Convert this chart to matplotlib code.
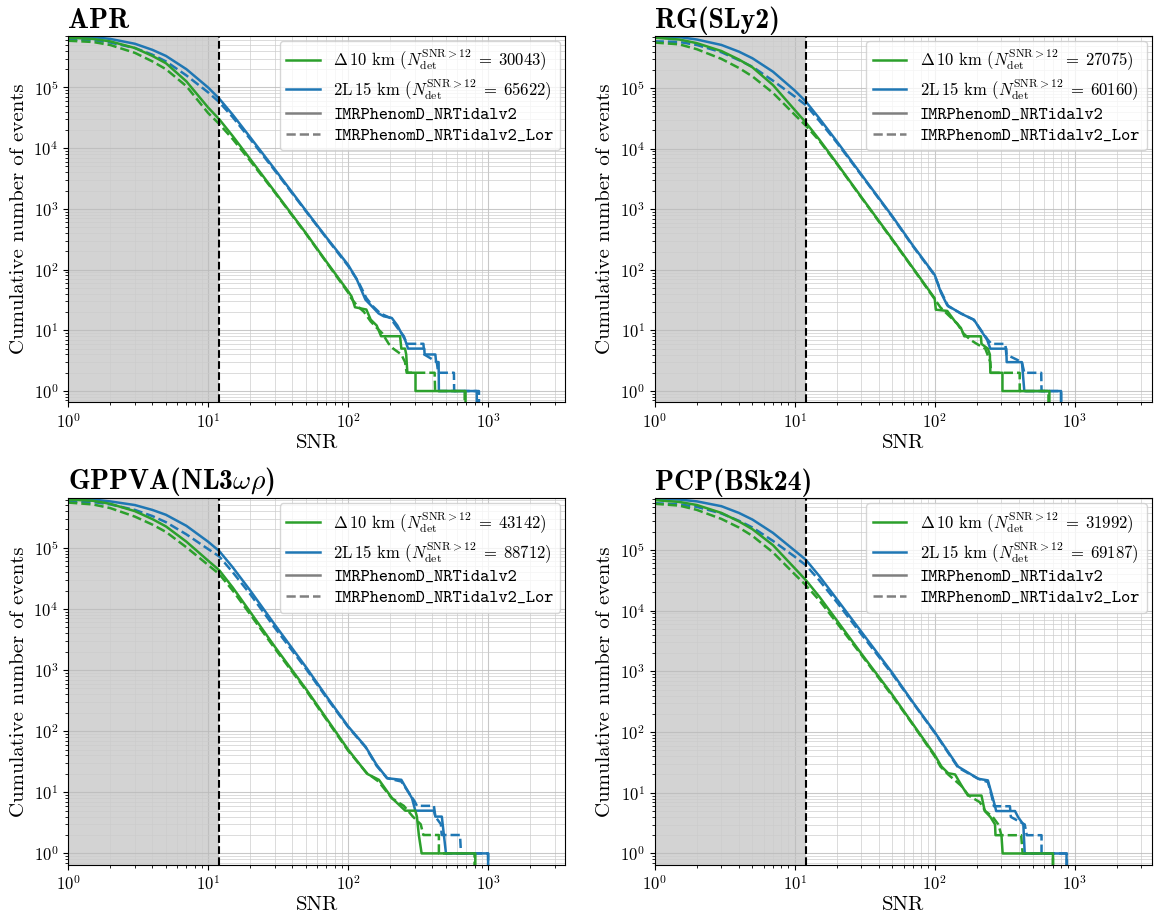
import numpy as np
import matplotlib.pyplot as plt
from matplotlib.lines import Line2D

plt.rcParams['font.family'] = 'cmr10'
plt.rcParams['mathtext.fontset'] = 'cm'
plt.rcParams['axes.formatter.use_mathtext'] = True

# ========== data ==========
# smooth part of each cumulative curve, read at these SNR values
snr_grid = [1, 1.5, 2, 3, 4, 5, 7, 10, 12, 15, 20, 30, 50, 70, 100]

panel_titles = ['APR', 'RG(SLy2)', r'GPPVA(NL3$\omega\rho$)', 'PCP(BSk24)']
n_det_d10 = [30043, 27075, 43142, 31992]
n_det_2l = [65622, 60160, 88712, 69187]

# APR
apr_d10_imr = [661000, 631000, 575000, 447000, 331000, 251000, 126000, 46800, 30043, 15800, 6610, 1910, 398, 135, 44]
apr_d10_lor = [589000, 562000, 501000, 372000, 269000, 200000, 105000, 38000, 25100, 14100, 6170, 1860, 389, 132, 42]
apr_2l_imr = [692000, 676000, 631000, 525000, 417000, 331000, 200000, 100000, 65622, 35500, 15100, 4470, 933, 339, 120]
apr_2l_lor = [617000, 603000, 550000, 447000, 347000, 269000, 158000, 83200, 57500, 32400, 14100, 4270, 912, 331, 115]
apr_d10_imr_tail = [(106, 36), (112, 24), (135, 22), (145, 15), (160, 12), (172, 8), (235, 8), (240, 5), (255, 5), (260, 4), (265, 2), (303, 2), (303, 1), (690, 1), (690, 0)]
apr_d10_lor_tail = [(105, 34), (115, 26), (130, 20), (145, 14), (160, 11), (175, 9), (195, 6), (210, 5), (240, 4), (255, 3), (262, 2), (415, 2), (418, 1), (680, 1), (680, 0)]
apr_2l_imr_tail = [(115, 70), (133, 32), (150, 24), (165, 19), (180, 17), (205, 16), (225, 12), (240, 9), (255, 7), (268, 5), (350, 5), (352, 4), (420, 4), (425, 3), (443, 3), (445, 1), (830, 1), (830, 0)]
apr_2l_lor_tail = [(118, 64), (135, 34), (150, 25), (170, 19), (200, 16), (225, 11), (250, 8), (262, 6), (345, 6), (350, 4), (430, 3), (440, 2), (570, 2), (572, 1), (860, 1), (860, 0)]

# RG(SLy2)
rg_d10_imr = [676000, 631000, 550000, 407000, 295000, 219000, 112000, 43600, 27075, 14100, 5750, 1580, 316, 107, 34]
rg_d10_lor = [562000, 525000, 437000, 302000, 214000, 155000, 83200, 36300, 24000, 13500, 5620, 1550, 309, 105, 33]
rg_2l_imr = [708000, 692000, 631000, 513000, 398000, 309000, 186000, 91200, 60160, 31600, 13200, 3720, 759, 251, 83]
rg_2l_lor = [589000, 575000, 513000, 389000, 288000, 224000, 132000, 72400, 52500, 28800, 12600, 3630, 741, 245, 81]
rg_d10_imr_tail = [(102, 22), (123, 21), (140, 14), (154, 11), (163, 8), (214, 8), (216, 6), (240, 5), (248, 4), (250, 2), (305, 2), (305, 1), (660, 1), (660, 0)]
rg_d10_lor_tail = [(110, 24), (125, 18), (145, 13), (160, 9), (180, 7), (200, 6), (230, 5), (250, 3), (253, 2), (405, 2), (405, 1), (650, 1), (650, 0)]
rg_2l_imr_tail = [(111, 42), (123, 26), (154, 19), (191, 15), (214, 10), (237, 7), (250, 5), (325, 5), (327, 3), (420, 3), (437, 1), (800, 1), (800, 0)]
rg_2l_lor_tail = [(111, 44), (125, 25), (155, 19), (190, 15), (215, 10), (240, 7), (255, 6), (320, 6), (325, 4), (420, 3), (437, 2), (577, 2), (580, 1), (800, 1), (800, 0)]

# GPPVA(NL3wr)
gppva_d10_imr = [617000, 589000, 525000, 398000, 295000, 224000, 126000, 61700, 43142, 22400, 8910, 2400, 490, 162, 50]
gppva_d10_lor = [550000, 513000, 447000, 324000, 240000, 182000, 102000, 52500, 37200, 20000, 8130, 2240, 468, 155, 48]
gppva_2l_imr = [631000, 617000, 575000, 501000, 417000, 347000, 229000, 126000, 88712, 47900, 20000, 5500, 1120, 372, 120]
gppva_2l_lor = [575000, 562000, 513000, 417000, 331000, 263000, 166000, 95500, 72400, 39800, 17400, 4900, 1050, 355, 117]
gppva_d10_imr_tail = [(137, 20), (166, 16), (206, 8), (256, 5), (302, 5), (310, 4), (320, 2), (335, 1), (810, 1), (810, 0)]
gppva_d10_lor_tail = [(135, 21), (165, 15), (205, 8), (250, 6), (290, 4), (330, 3), (345, 2), (445, 2), (445, 1), (800, 1), (800, 0)]
gppva_2l_imr_tail = [(133, 56), (160, 28), (190, 17), (240, 16), (270, 10), (286, 8), (302, 5), (410, 5), (420, 4), (467, 4), (500, 1), (1000, 1), (1000, 0)]
gppva_2l_lor_tail = [(133, 55), (160, 27), (190, 17), (240, 15), (270, 10), (300, 7), (310, 6), (410, 6), (420, 4), (460, 3), (466, 2), (630, 2), (640, 1), (1000, 1), (1000, 0)]

# PCP(BSk24)
pcp_d10_imr = [661000, 617000, 550000, 407000, 295000, 219000, 120000, 50100, 31992, 17000, 6920, 1950, 407, 135, 42]
pcp_d10_lor = [575000, 537000, 457000, 324000, 234000, 170000, 91200, 39800, 26300, 14800, 6310, 1860, 389, 132, 40]
pcp_2l_imr = [692000, 676000, 631000, 525000, 407000, 316000, 191000, 97700, 69187, 37200, 15500, 4470, 933, 309, 100]
pcp_2l_lor = [589000, 562000, 513000, 398000, 302000, 234000, 141000, 77600, 56200, 31600, 13800, 4070, 891, 302, 98]
pcp_d10_imr_tail = [(112, 27), (125, 21), (140, 20), (156, 13), (173, 9), (216, 9), (228, 5), (250, 4), (270, 3), (272, 2), (300, 2), (306, 1), (700, 1), (700, 0)]
pcp_d10_lor_tail = [(110, 27), (125, 20), (155, 13), (175, 9), (210, 7), (230, 5), (260, 4), (285, 3), (300, 2), (415, 2), (425, 1), (700, 1), (700, 0)]
pcp_2l_imr_tail = [(147, 27), (205, 17), (240, 16), (254, 10), (270, 6), (275, 5), (375, 5), (394, 4), (430, 3), (440, 1), (875, 1), (875, 0)]
pcp_2l_lor_tail = [(147, 26), (205, 17), (240, 15), (255, 9), (265, 6), (345, 6), (350, 4), (440, 3), (455, 2), (580, 2), (580, 1), (880, 1), (880, 0)]

panels = [
    [(apr_d10_imr, apr_d10_imr_tail), (apr_d10_lor, apr_d10_lor_tail), (apr_2l_imr, apr_2l_imr_tail), (apr_2l_lor, apr_2l_lor_tail)],
    [(rg_d10_imr, rg_d10_imr_tail), (rg_d10_lor, rg_d10_lor_tail), (rg_2l_imr, rg_2l_imr_tail), (rg_2l_lor, rg_2l_lor_tail)],
    [(gppva_d10_imr, gppva_d10_imr_tail), (gppva_d10_lor, gppva_d10_lor_tail), (gppva_2l_imr, gppva_2l_imr_tail), (gppva_2l_lor, gppva_2l_lor_tail)],
    [(pcp_d10_imr, pcp_d10_imr_tail), (pcp_d10_lor, pcp_d10_lor_tail), (pcp_2l_imr, pcp_2l_imr_tail), (pcp_2l_lor, pcp_2l_lor_tail)],
]

snr_cut = 12
green = '#2ca02c'
blue = '#1f77b4'

def curve(n, tail):
    x = snr_grid + [p[0] for p in tail]
    y = n + [p[1] for p in tail]
    return x, y

# ========== plot ==========
fig, axes = plt.subplots(2, 2, figsize=(11.54, 9.22), dpi=100)
fig.subplots_adjust(left=0.059, right=0.998, top=0.961, bottom=0.062, wspace=0.18, hspace=0.262)

for i, ax in enumerate(axes.flat):
    (d_imr, d_imr_t), (d_lor, d_lor_t), (l_imr, l_imr_t), (l_lor, l_lor_t) = panels[i]
    ax.axvspan(1, snr_cut, color='#d3d3d3', lw=0, zorder=0)
    ax.plot(*curve(l_lor, l_lor_t), color=blue, ls='--', lw=1.8)
    ax.plot(*curve(d_lor, d_lor_t), color=green, ls='--', lw=1.8)
    ax.plot(*curve(l_imr, l_imr_t), color=blue, lw=1.8)
    ax.plot(*curve(d_imr, d_imr_t), color=green, lw=1.8)
    ax.axvline(snr_cut, color='k', ls='--', lw=1.5)
    ax.set_xscale('log')
    ax.set_yscale('log')
    ax.set_xticks([1, 10, 100, 1000])
    ax.set_yticks([1, 10, 100, 1e3, 1e4, 1e5])
    ax.set_xlim(1, 3550)
    ax.set_ylim(0.65, max(l_imr) * 1.02)
    ax.grid(which='major', color='#bbbbbb', lw=0.8, alpha=0.8)
    ax.grid(which='minor', color='#cccccc', lw=0.7, alpha=0.7)
    ax.tick_params(labelsize=12)
    ax.set_xlabel('SNR', fontsize=15, labelpad=2)
    ax.set_ylabel('Cumulative number of events', fontsize=15)
    ax.set_title(panel_titles[i], loc='left', fontfamily='cmb10', fontsize=20, pad=6)

    handles = [Line2D([], [], color=green, lw=1.8),
               Line2D([], [], color=blue, lw=1.8),
               Line2D([], [], color='gray', lw=1.8),
               Line2D([], [], color='gray', lw=1.8, ls='--')]
    labels = [r'$\Delta\,10$ km ($N_{\rm det}^{\rm SNR>12}\;=\;%d$)' % n_det_d10[i],
              r'2L$\,15$ km ($N_{\rm det}^{\rm SNR>12}\;=\;%d$)' % n_det_2l[i],
              'IMRPhenomD_NRTidalv2',
              'IMRPhenomD_NRTidalv2_Lor']
    leg = ax.legend(handles, labels, loc='upper right', fontsize=12,
                    labelspacing=0.3, borderaxespad=0.3, handlelength=2.0)
    for t in leg.get_texts()[2:]:
        t.set_family('cmtt10')
        t.set_fontsize(12.6)

fig.savefig('out.png', dpi=100)
